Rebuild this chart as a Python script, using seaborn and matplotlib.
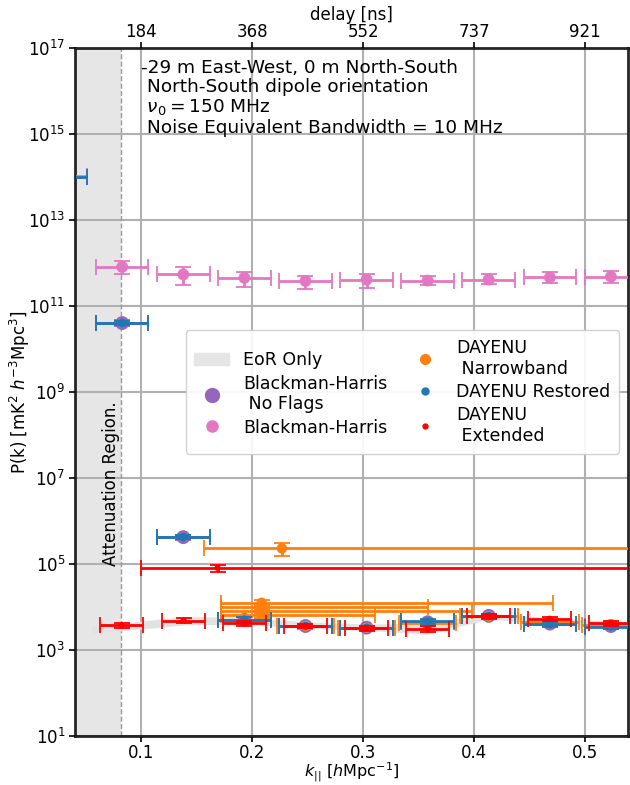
import numpy as np
import pandas as pd
import seaborn as sns
import matplotlib
matplotlib.use("Agg")
import matplotlib.pyplot as plt
from matplotlib.lines import Line2D
from matplotlib.patches import Patch

# ---- data -------------------------------------------------------------
k_bins = [0.0276, 0.0827, 0.1378, 0.1929, 0.2480, 0.3031, 0.3582, 0.4133, 0.4684, 0.5235]
dk_bins = 0.0237

# Blackman-Harris, no flags
p_bh_noflag = [1.0e14, 4.0e10, 4.2e5, 5.0e3, 3.6e3, 3.3e3, 4.4e3, 6.2e3, 4.1e3, 3.6e3]
p_bh_noflag_lo = [0.85e14, 3.4e10, 3.7e5, 4.3e3, 3.1e3, 2.9e3, 3.8e3, 5.4e3, 3.6e3, 3.1e3]
p_bh_noflag_hi = [1.15e14, 4.6e10, 4.7e5, 5.7e3, 4.1e3, 3.7e3, 5.0e3, 7.0e3, 4.6e3, 4.1e3]

# Blackman-Harris, flagged
p_bh = [1.05e14, 8.1e11, 5.4e11, 4.5e11, 3.8e11, 4.1e11, 3.9e11, 4.1e11, 4.6e11, 4.8e11]
p_bh_lo = [0.85e14, 5.4e11, 3.0e11, 2.8e11, 2.5e11, 2.6e11, 3.0e11, 3.2e11, 3.5e11, 3.4e11]
p_bh_hi = [1.3e14, 1.1e12, 8.0e11, 6.0e11, 5.1e11, 5.5e11, 5.1e11, 5.6e11, 6.0e11, 6.4e11]

# DAYENU restored
p_restored = [1.0e14, 4.0e10, 4.2e5, 5.1e3, 3.6e3, 3.3e3, 4.6e3, 6.2e3, 4.0e3, 3.5e3]
p_restored_lo = [0.88e14, 3.6e10, 3.8e5, 4.5e3, 3.2e3, 2.9e3, 4.0e3, 5.5e3, 3.5e3, 3.1e3]
p_restored_hi = [1.12e14, 4.4e10, 4.6e5, 5.7e3, 4.0e3, 3.7e3, 5.2e3, 6.9e3, 4.5e3, 3.9e3]

# DAYENU narrowband
k_narrow = [0.2267, 0.2085, 0.2085, 0.2085, 0.2085, 0.2480, 0.3031, 0.3582, 0.4133, 0.4684, 0.5235]
k_narrow_lo = [0.0701, 0.0365, 0.0365, 0.0365, 0.0365, 0.0260, 0.0260, 0.0260, 0.0260, 0.0260, 0.0260]
k_narrow_hi = [0.6000, 0.2625, 0.1500, 0.1895, 0.1025, 0.0260, 0.0260, 0.0260, 0.0260, 0.0260, 0.0260]
p_narrow = [2.3e5, 1.25e4, 1.0e4, 8.2e3, 6.6e3, 3.6e3, 3.3e3, 4.2e3, 6.1e3, 4.5e3, 3.9e3]
p_narrow_lo = [1.5e5, 1.05e4, 0.85e4, 7.0e3, 5.6e3, 3.1e3, 2.9e3, 3.6e3, 5.4e3, 3.9e3, 3.4e3]
p_narrow_hi = [3.0e5, 1.45e4, 1.15e4, 9.4e3, 7.6e3, 4.1e3, 3.7e3, 4.8e3, 6.9e3, 5.1e3, 4.4e3]

# DAYENU extended
k_ext = [0.0822, 0.1381, 0.1687, 0.1929, 0.2480, 0.3031, 0.3582, 0.4133, 0.4684, 0.5235]
k_ext_lo = [0.0195, 0.0195, 0.0687, 0.0195, 0.0195, 0.0195, 0.0195, 0.0195, 0.0195, 0.0195]
k_ext_hi = [0.0195, 0.0195, 0.6000, 0.0195, 0.0195, 0.0195, 0.0195, 0.0195, 0.0195, 0.0195]
p_ext = [3.8e3, 4.8e3, 8.1e4, 4.2e3, 3.6e3, 3.2e3, 3.1e3, 6.0e3, 5.3e3, 4.2e3]
p_ext_lo = [3.3e3, 4.2e3, 6.6e4, 3.7e3, 3.2e3, 2.8e3, 2.6e3, 5.3e3, 4.7e3, 3.7e3]
p_ext_hi = [4.3e3, 5.4e3, 9.6e4, 4.7e3, 4.0e3, 3.6e3, 3.6e3, 6.7e3, 5.9e3, 4.7e3]

# EoR-only band
k_eor = [0.0552, 0.0827, 0.1378, 0.1929, 0.2480, 0.3031, 0.3582, 0.4133, 0.4684, 0.5235, 0.5511]
p_eor_lo = [2.5e3, 2.8e3, 3.8e3, 4.0e3, 3.2e3, 2.8e3, 2.35e3, 5.2e3, 4.0e3, 3.2e3, 3.0e3]
p_eor_hi = [3.8e3, 4.2e3, 6.0e3, 5.8e3, 4.5e3, 4.0e3, 4.2e3, 7.1e3, 5.6e3, 4.6e3, 4.4e3]

delay_ticks = [0.1, 0.2, 0.3, 0.4, 0.5]
delay_labels = ["184", "368", "552", "737", "921"]

k_attenuation = 0.082

# ---- style ------------------------------------------------------------
sns.set_style("ticks")
plt.rcParams["font.family"] = ["DejaVu Sans"]
plt.rcParams["mathtext.fontset"] = "dejavusans"
plt.rcParams["text.color"] = "black"
plt.rcParams["axes.labelcolor"] = "black"
plt.rcParams["xtick.color"] = "black"
plt.rcParams["ytick.color"] = "black"

fig = plt.figure(figsize=(6.3, 7.85), dpi=100)
ax = fig.add_axes([0.119, 0.0625, 0.878, 0.8764])

c_purple = "#9467bd"
c_pink = "#e377c2"
c_orange = "#ff7f0e"
c_blue = "#1f77b4"
c_red = "#ff0000"


def draw_series(k, klo, khi, p, plo, phi, color, ms, z):
    p = np.asarray(p)
    yerr = [p - np.asarray(plo), np.asarray(phi) - p]
    ax.errorbar(k, p, xerr=[klo, khi], yerr=yerr, fmt="none", ecolor=color,
                elinewidth=2, capsize=6, capthick=1.3, zorder=z)
    df = pd.DataFrame({"k": k, "P": p})
    sns.scatterplot(data=df, x="k", y="P", ax=ax, color=color, s=ms ** 2,
                    edgecolor="none", zorder=z + 0.5, legend=False)


n = len(k_bins)
dk = [dk_bins] * n
draw_series(k_bins, dk, dk, p_bh_noflag, p_bh_noflag_lo, p_bh_noflag_hi, c_purple, 10, 3)
draw_series(k_bins, dk, dk, p_bh, p_bh_lo, p_bh_hi, c_pink, 8.5, 4)
draw_series(k_narrow, k_narrow_lo, k_narrow_hi, p_narrow, p_narrow_lo, p_narrow_hi, c_orange, 7.5, 5)
draw_series(k_bins, dk, dk, p_restored, p_restored_lo, p_restored_hi, c_blue, 6, 6)
draw_series(k_ext, k_ext_lo, k_ext_hi, p_ext, p_ext_lo, p_ext_hi, c_red, 4.5, 7)

# EoR-only band
ax.fill_between(k_eor, p_eor_lo, p_eor_hi, color="#e2e2e2", lw=0, zorder=2)

# Attenuation region
ax.axvspan(0.0, k_attenuation, color="#e6e6e6", zorder=0.5, lw=0)
ax.axvline(k_attenuation, color="#999999", ls="--", lw=1, zorder=1)
ax.text(0.0725, 9e4, "Attenuation Region.", rotation=90, ha="center", va="bottom",
        fontsize=12, zorder=8)

ax.set_yscale("log")
ax.set_xlim(0.0401, 0.539)
ax.set_ylim(1e1, 1e17)
ax.set_yticks([10.0 ** e for e in range(1, 18, 2)])
ax.yaxis.set_minor_locator(matplotlib.ticker.NullLocator())
ax.set_xticks(delay_ticks)
ax.set_xticklabels(["0.1", "0.2", "0.3", "0.4", "0.5"])
ax.grid(True, color="#b0b0b0", lw=1.5, zorder=1)
ax.set_axisbelow(True)
ax.tick_params(labelsize=12, width=1.2, length=4, pad=3)
ax.tick_params(axis="x", pad=2)
for s in ax.spines.values():
    s.set_linewidth(1.8)
    s.set_color("black")

ax.set_xlabel(r"$k_{||}$ [$h$Mpc$^{-1}$]", fontsize=11.5, labelpad=-1)
ax.set_ylabel(r"P(k) [mK$^2$ $h^{-3}$Mpc$^3$]", fontsize=12, labelpad=-3)

ax.text(0.1, 10 ** 16.74,
        "-29 m East-West, 0 m North-South\n North-South dipole orientation\n"
        r" $\nu_0 = 150$ MHz" "\n Noise Equivalent Bandwidth = 10 MHz",
        ha="left", va="top", fontsize=13.3, linespacing=1.08, zorder=8)

# delay axis on top
ax2 = ax.twiny()
ax2.set_xlim(ax.get_xlim())
ax2.set_xticks(delay_ticks)
ax2.set_xticklabels(delay_labels)
ax2.tick_params(labelsize=12, width=1.2, length=4, pad=1)
ax2.set_xlabel("delay [ns]", fontsize=12, labelpad=2)

handles = [
    Patch(color="#e5e5e5", label="EoR Only"),
    Line2D([], [], ls="none", marker="o", ms=10, color=c_purple, label="Blackman-Harris\n No Flags"),
    Line2D([], [], ls="none", marker="o", ms=8, color=c_pink, label="Blackman-Harris"),
    Line2D([], [], ls="none", marker="o", ms=7, color=c_orange, label="DAYENU\n Narrowband"),
    Line2D([], [], ls="none", marker="o", ms=5, color=c_blue, label="DAYENU Restored"),
    Line2D([], [], ls="none", marker="o", ms=3.5, color=c_red, label="DAYENU\n Extended"),
]
leg = ax.legend(handles=handles, loc="center right", ncol=2, fontsize=12.5,
                framealpha=0.9, columnspacing=1.2, handlelength=2.0,
                labelspacing=0.3, borderpad=0.5)
leg.set_zorder(9)

fig.savefig("out.png", dpi=100)
